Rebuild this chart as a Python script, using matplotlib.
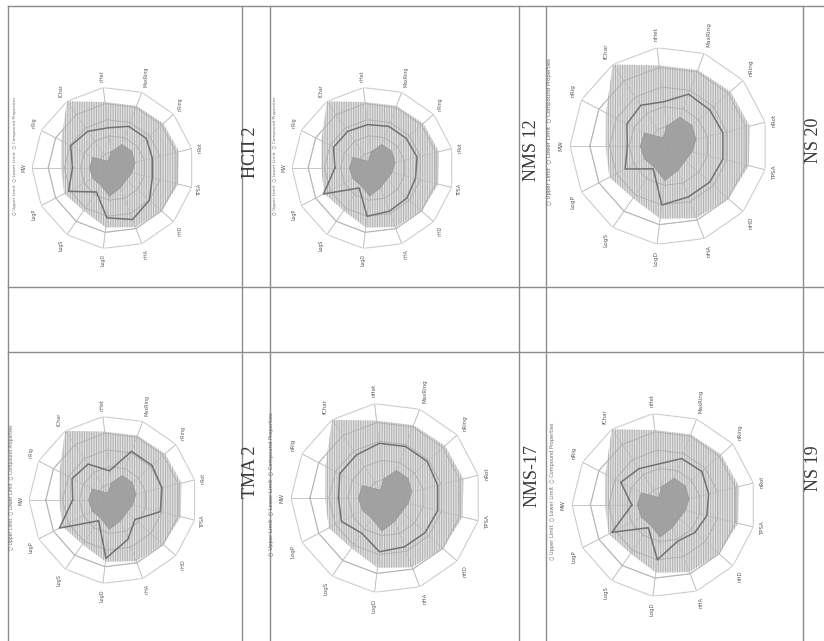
import numpy as np
import matplotlib
matplotlib.use("Agg")
import matplotlib.pyplot as plt

# ---- data -------------------------------------------------------------
properties = ["MW", "nRig", "fChar", "nHet", "MaxRing", "nRing", "nRot",
              "TPSA", "nHD", "nHA", "LogD", "LogS", "LogP"]

# normalised limits of the drug-like space (same for every compound)
upper_limit = [0.64, 0.72, 1.00, 0.82, 0.82, 0.83, 0.84, 0.83, 0.80, 0.78, 0.74, 0.64, 0.68]
lower_limit = [0.29, 0.28, 0.10, 0.20, 0.31, 0.31, 0.28, 0.24, 0.22, 0.26, 0.35, 0.26, 0.28]

compound_names = ["НСП 2", "NMS 12", "NS 20", "TMA 2", "NMS-17", "NS 19"]
hsp_2 = [0.50, 0.59, 0.55, 0.50, 0.55, 0.55, 0.50, 0.50, 0.60, 0.68, 0.62, 0.36, 0.62]
nms_12 = [0.47, 0.55, 0.55, 0.54, 0.55, 0.55, 0.56, 0.54, 0.56, 0.57, 0.60, 0.30, 0.69]
ns_20 = [0.42, 0.48, 0.50, 0.45, 0.56, 0.55, 0.56, 0.56, 0.55, 0.55, 0.60, 0.28, 0.50]
tma_2 = [0.48, 0.55, 0.52, 0.35, 0.62, 0.62, 0.60, 0.58, 0.35, 0.50, 0.70, 0.30, 0.72]
nms_17 = [0.50, 0.55, 0.55, 0.58, 0.58, 0.58, 0.56, 0.56, 0.55, 0.55, 0.57, 0.45, 0.53]
ns_19 = [0.35, 0.53, 0.48, 0.45, 0.54, 0.55, 0.50, 0.48, 0.45, 0.42, 0.60, 0.30, 0.64]
compound_values = [hsp_2, nms_12, ns_20, tma_2, nms_17, ns_19]

# ---- page layout (pixels, origin top-left) ------------------------------
W, H = 824, 641
plt.rcParams["hatch.linewidth"] = 0.8

fig = plt.figure(figsize=(W / 100, H / 100), dpi=100)
fig.patch.set_facecolor("white")

page = fig.add_axes([0, 0, 1, 1])
page.set_xlim(0, W)
page.set_ylim(H, 0)
page.set_axis_off()

rule = dict(color="#8c8c8c", lw=1.0)
for x in [8, 242, 270, 519, 546, 803]:
    page.plot([x, x], [6, H], **rule)
for y in [6, 287, 352]:
    page.plot([8, W], [y, y], **rule)

# chart centre x, centre y, radius
charts = [(113, 168, 81), (373, 168, 81), (669, 146, 99),
          (113, 500, 84), (386, 498, 95), (664, 505, 92)]
titles = [(251, 152), (532, 150), (814, 140),
          (251, 472), (532, 476), (814, 468)]

theta = np.linspace(0, 2 * np.pi, len(properties), endpoint=False)
tc = np.append(theta, theta[0])


def closed(v):
    v = list(v)
    return v + v[:1]


for (cx, cy, R), (tx, ty), name, vals in zip(charts, titles, compound_names,
                                              compound_values):
    ax = fig.add_axes([(cx - R) / W, 1 - (cy + R) / H, 2 * R / W, 2 * R / H],
                      projection="polar")
    ax.set_theta_zero_location("W")
    ax.set_theta_direction(-1)
    ax.set_ylim(0, 1)
    ax.set_axis_off()
    k = R / 81.0

    # polygon grid (outer part stays light)
    for lvl in [0.2, 0.4, 0.6, 0.8, 1.0]:
        ax.plot(tc, [lvl] * len(tc), color="#cdcdcd", lw=0.8, zorder=0.5)
    for t in theta:
        ax.plot([t, t], [0, 1], color="#cdcdcd", lw=0.6, zorder=0.5)

    # limit areas
    ax.fill(tc, closed(upper_limit), facecolor="#e2e2e2", edgecolor="none",
            alpha=0.9, zorder=1)
    ax.fill(tc, closed(upper_limit), facecolor="none", edgecolor="#b2b2b2",
            hatch="|||||||", lw=0, zorder=1.1)

    # grid lines showing through the shaded area
    for lvl in [0.2, 0.4, 0.6, 0.8]:
        ax.plot(tc, [lvl] * len(tc), color="#a8a8a8", lw=0.7, alpha=0.7, zorder=1.5)
    for t in theta:
        ax.plot([t, t], [0, 1], color="#b8b8b8", lw=0.5, alpha=0.7, zorder=1.5)

    ax.fill(tc, closed(lower_limit), facecolor="#9e9e9e", edgecolor="#979797",
            lw=0.6, alpha=0.92, zorder=2)

    # compound
    ax.plot(tc, closed(vals), color="#727272", lw=1.1, zorder=4)

    # axis names
    for t, prop in zip(theta, properties):
        phi = np.pi - t
        c, s = np.cos(phi), np.sin(phi)
        ha = "right" if c < -0.3 else ("left" if c > 0.3 else "center")
        va = "bottom" if s > 0.3 else ("top" if s < -0.3 else "center")
        ax.text(t, 1.07, prop, rotation=90, ha=ha, va=va,
                fontsize=3.4 * k, color="#5a5a5a", clip_on=False)

    # legend strip
    page.text(cx - 1.21 * R, cy - 0.15 * R,
              "○ Upper Limit  ○ Lower Limit  ○ Compound Properties",
              rotation=90, ha="center", va="center",
              fontsize=3.2 * k, color="#6a6a6a")

    # compound name
    page.text(tx, ty, name, rotation=90, ha="center", va="center",
              fontsize=13, color="#3a3a3a", family="Liberation Serif")

fig.savefig("out.png", dpi=100, facecolor="white")
